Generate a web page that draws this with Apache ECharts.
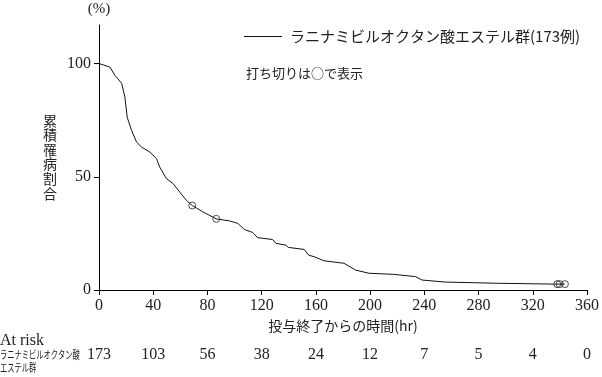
<!DOCTYPE html>
<html>
<head>
<meta charset="utf-8">
<script src="https://cdn.jsdelivr.net/npm/echarts@6/dist/echarts.min.js"></script>
<style>
  html, body { margin: 0; padding: 0; background: #fff; }
  #chart { width: 602px; height: 377px; }
</style>
</head>
<body>
<div id="chart"></div>
<script>
// 投与終了からの時間(hr) / 累積罹病割合(%)
var times = [0, 8.1, 11.8, 16.7, 19.1, 20.8, 24, 27.7, 31.4, 37.5, 42.4, 44.8, 49.7, 54.6, 59.5, 64.4,
  68.8, 76.6, 86.5, 96.3, 102.4, 107.3, 113.4, 117, 128, 130.5, 137.9, 139.7, 151.4, 154.6, 158.7,
  166, 180.7, 189.3, 199.1, 217.5, 233.5, 238.3, 255.5, 292.2, 336.3, 343.7];
var rates = [100, 98.4, 94.7, 91.3, 85.2, 76.3, 70.5, 65.3, 63.1, 60.9, 58.0, 54.3, 49.2, 47.0, 43.3, 39.6,
  37.3, 34.5, 31.4, 30.5, 29.4, 26.7, 25.4, 23.1, 22.3, 20.6, 19.8, 18.8, 17.9, 15.4, 14.7,
  12.9, 11.8, 8.8, 7.4, 6.9, 5.9, 4.4, 3.5, 3.0, 2.6, 2.6];
// 打ち切り
var censorTimes = [68.8, 86.5, 338, 339.8, 343.7];
var censorRates = [37.3, 31.4, 2.6, 2.6, 2.6];
// At risk
var riskTimes = [0, 40, 80, 120, 160, 200, 240, 280, 320, 360];
var atRisk = [173, 103, 56, 38, 24, 12, 7, 5, 4, 0];
var seriesName = 'ラニナミビルオクタン酸エステル群(173例)';

var numFont = 'Liberation Serif';
var jpFont = 'Noto Sans CJK JP';

var chart = echarts.init(document.getElementById('chart'));
chart.setOption({
  animation: false,
  grid: {
    left: 99,
    right: 13,
    top: 25,
    bottom: 87
  },
  legend: {
    left: 239,
    top: 24,
    icon: 'rect',
    itemWidth: 38,
    itemHeight: 1,
    data: [seriesName],
    textStyle: {
      fontFamily: jpFont,
      fontSize: 15,
      color: '#222',
      padding: [0, 0, 0, 3]
    }
  },
  xAxis: [{
    type: 'value',
    min: 0,
    max: 360,
    interval: 40,
    name: '投与終了からの時間(hr)',
    nameLocation: 'middle',
    nameGap: 29,
    nameTextStyle: {
      fontFamily: jpFont,
      fontSize: 14,
      color: '#222'
    },
    axisLine: { lineStyle: { color: '#000', width: 1 } },
    axisTick: { length: 5, lineStyle: { color: '#000' } },
    axisLabel: {
      margin: 8,
      fontFamily: numFont,
      fontSize: 16,
      color: '#222'
    },
    splitLine: { show: false }
  }, {
    // at risk row
    type: 'value',
    position: 'bottom',
    offset: 49,
    min: 0,
    max: 360,
    interval: 40,
    axisLine: { show: false },
    axisTick: { show: false },
    splitLine: { show: false },
    axisLabel: {
      margin: 8,
      fontFamily: numFont,
      fontSize: 16,
      color: '#222',
      formatter: function (v) {
        var i = riskTimes.indexOf(v);
        return i < 0 ? '' : String(atRisk[i]);
      }
    }
  }],
  yAxis: {
    type: 'value',
    min: 0,
    max: 117,
    name: '(%)',
    nameLocation: 'end',
    nameGap: 8,
    nameTextStyle: {
      fontFamily: numFont,
      fontSize: 15,
      color: '#222',
      align: 'center'
    },
    axisLine: { show: true, lineStyle: { color: '#000', width: 1 } },
    axisTick: { show: true, length: 5, customValues: [0, 50, 100], lineStyle: { color: '#000' } },
    axisLabel: {
      margin: 8,
      customValues: [0, 50, 100],
      fontFamily: numFont,
      fontSize: 16,
      color: '#222'
    },
    splitLine: { show: false }
  },
  graphic: [{
    type: 'text',
    x: 50,
    y: 113,
    style: {
      text: '累\n積\n罹\n病\n割\n合',
      fontFamily: jpFont,
      fontSize: 14,
      lineHeight: 14.6,
      align: 'center',
      fill: '#222'
    }
  }, {
    type: 'text',
    x: 246,
    y: 73,
    style: {
      text: '打ち切りは○で表示',
      fontFamily: jpFont,
      fontSize: 13,
      verticalAlign: 'middle',
      fill: '#222'
    }
  }, {
    type: 'text',
    x: 0,
    y: 341,
    style: {
      text: 'At risk',
      fontFamily: numFont,
      fontSize: 16,
      verticalAlign: 'middle',
      fill: '#222'
    }
  }, {
    type: 'text',
    x: 0,
    y: 355,
    scaleX: 0.66,
    style: {
      text: 'ラニナミビルオクタン酸',
      fontFamily: jpFont,
      fontSize: 11,
      verticalAlign: 'middle',
      fill: '#222'
    }
  }, {
    type: 'text',
    x: 0,
    y: 368,
    scaleX: 0.66,
    style: {
      text: 'エステル群',
      fontFamily: jpFont,
      fontSize: 11,
      verticalAlign: 'middle',
      fill: '#222'
    }
  }],
  series: [{
    name: seriesName,
    type: 'line',
    symbol: 'none',
    lineStyle: { color: '#111', width: 1 },
    itemStyle: { color: '#111' },
    data: times.map(function (t, i) { return [t, rates[i]]; })
  }, {
    name: '打ち切り',
    type: 'scatter',
    symbol: 'circle',
    symbolSize: 7,
    z: 5,
    itemStyle: { color: 'rgba(255,255,255,0)', borderColor: '#222', borderWidth: 1 },
    data: censorTimes.map(function (t, i) { return [t, censorRates[i]]; })
  }]
});
</script>
</body>
</html>
